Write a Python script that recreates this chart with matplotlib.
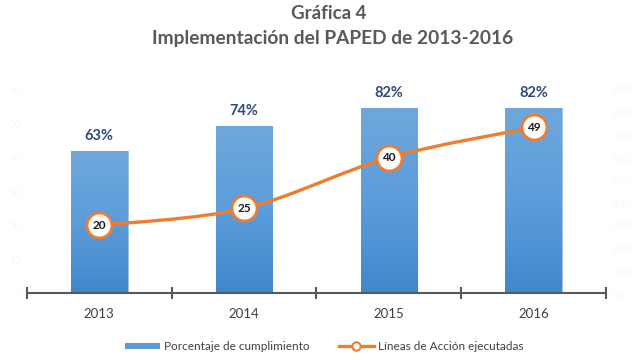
import matplotlib
matplotlib.use("Agg")
import matplotlib.pyplot as plt
import numpy as np
from matplotlib.path import Path
from matplotlib.patches import PathPatch
from matplotlib.lines import Line2D
from matplotlib.patches import Patch
from matplotlib.colors import LinearSegmentedColormap

years = ["2013", "2014", "2015", "2016"]
pct = [63, 74, 82, 82]
lines_exec = [20, 25, 40, 49]

title1 = "Gráfica 4"
title2 = "Implementación del PAPED de 2013-2016"
legend_bar = "Porcentaje de cumplimiento"
legend_line = "Líneas de Acción ejecutadas"

plt.rcParams['font.family'] = ['Lato', 'DejaVu Sans']

fig = plt.figure(figsize=(6.4, 3.6), dpi=100)
ax = fig.add_axes([0.042, 0.186, 0.905, 0.564])
ax2 = ax.twinx()

x = np.arange(len(years))
w = 0.39

# bars with vertical gradient
bars = ax.bar(x, pct, width=w, color='#5B9BD5', edgecolor='#9DC3E6', linewidth=0.6, zorder=2)
grad = np.linspace(0, 1, 256).reshape(-1, 1)
cmap = LinearSegmentedColormap.from_list('g', ['#4088CB', '#5C9DDB', '#6FA7DC'])
for b in bars:
    bx, by = b.get_x(), b.get_y()
    bw, bh = b.get_width(), b.get_height()
    im = ax.imshow(grad, extent=[bx, bx + bw, by, by + bh], origin='lower', cmap=cmap,
                   aspect='auto', zorder=2.5)
    im.set_clip_path(b)
for xi, v in zip(x, pct):
    ax.annotate(f"{v}%", (xi, v), xytext=(0, 6), textcoords='offset points',
                ha='center', va='bottom', fontsize=10.5, fontweight='bold', color='#2E4A7D')

ax.set_xlim(-0.5, 3.5)
ax.set_ylim(0, 90)
ax.yaxis.tick_right()
ax.set_yticks(np.arange(0, 91, 10))
ax.set_yticklabels([f"{v}%" for v in range(0, 91, 10)])
ax.tick_params(axis='y', length=0, labelsize=8, labelcolor='#F8F8F8', pad=4)

# smooth line (Catmull-Rom bezier)
pts = np.column_stack([x, lines_exec]).astype(float)
ext = np.vstack([pts[0], pts, pts[-1]])
verts = [tuple(pts[0])]
codes = [Path.MOVETO]
for i in range(len(pts) - 1):
    p0, p1, p2, p3 = ext[i], ext[i + 1], ext[i + 2], ext[i + 3]
    c1 = p1 + (p2 - p0) / 6
    c2 = p2 - (p3 - p1) / 6
    verts += [tuple(c1), tuple(c2), tuple(p2)]
    codes += [Path.CURVE4] * 3
ax2.add_patch(PathPatch(Path(verts, codes), facecolor='none', edgecolor='#ED7D31',
                        linewidth=2.4, zorder=3, capstyle='round'))
ax2.plot(x, lines_exec, linestyle='none', marker='o', markersize=18,
         markerfacecolor='white', markeredgecolor='#ED7D31', markeredgewidth=2, zorder=4)
for xi, v in zip(x, lines_exec):
    ax2.text(xi, v, str(v), ha='center', va='center', fontsize=8.5, fontweight='bold',
             color='#1a1a1a', zorder=5)
ax2.set_ylim(0, 60)
ax2.yaxis.tick_left()
ax2.set_yticks(np.arange(0, 61, 10))
ax2.tick_params(axis='y', length=0, labelsize=8, labelcolor='#F8F8F8', pad=4)

for a in (ax, ax2):
    for s in ['top', 'left', 'right']:
        a.spines[s].set_visible(False)
ax2.spines['bottom'].set_visible(False)
ax.spines['bottom'].set_color('#595959')
ax.spines['bottom'].set_linewidth(1.5)

ax.set_xticks(x)
ax.set_xticklabels(years)
ax.set_xticks(np.arange(-0.5, 3.6, 1), minor=True)
ax.tick_params(axis='x', which='major', length=0, labelsize=9.5, labelcolor='#404040', pad=11)
ax.tick_params(axis='x', which='minor', direction='inout', length=8, width=1.5, color='#595959')

fig.text(0.513, 0.962, title1, ha='center', va='center', fontsize=13.5, fontweight='bold', color='#595959')
fig.text(0.52, 0.894, title2, ha='center', va='center', fontsize=13.8, fontweight='bold', color='#595959')

handles = [Patch(facecolor='#5B9BD5', edgecolor='none'),
           Line2D([0], [0], color='#ED7D31', linewidth=2.4, marker='o', markersize=6,
                  markerfacecolor='white', markeredgecolor='#ED7D31', markeredgewidth=1.5)]
fig.legend(handles, [legend_bar, legend_line], loc='center', bbox_to_anchor=(0.506, 0.037),
           ncol=2, frameon=False, fontsize=8.5, labelcolor='#404040', handlelength=3.0,
           handleheight=0.5, columnspacing=2.5, handletextpad=0.3)

fig.savefig("out.png", dpi=100, facecolor='white')
